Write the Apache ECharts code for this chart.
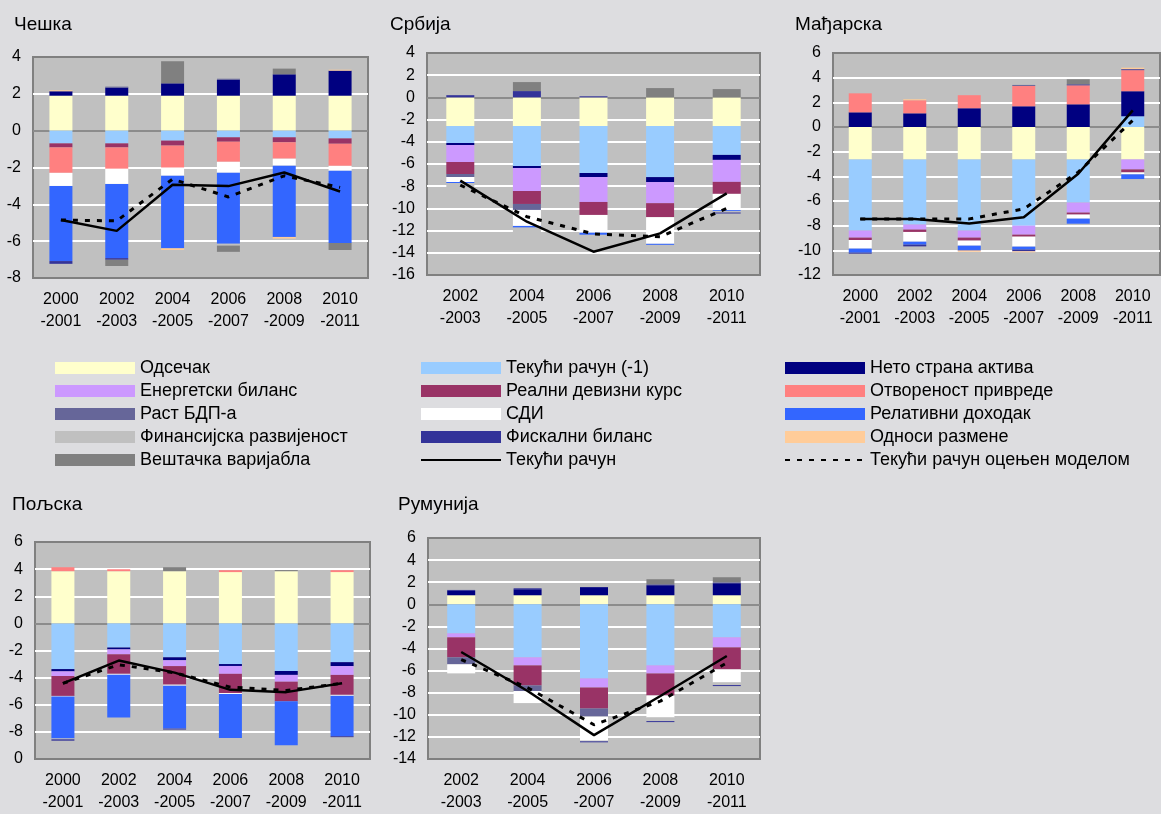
<!DOCTYPE html>
<html>
<head>
<meta charset="utf-8">
<script src="https://cdn.jsdelivr.net/npm/echarts@6/dist/echarts.min.js"></script>
<style>
  html, body { margin: 0; padding: 0; background: #dddde0; }
  #chart { width: 1161px; height: 814px; }
</style>
</head>
<body>
<div id="chart"></div>
<script>
// factor names, in stacking order (same as the legend, row by row)
const factorNames = [
  "Одсечак", "Текући рачун (-1)", "Нето страна актива",
  "Енергетски биланс", "Реални девизни курс", "Отвореност привреде",
  "Раст БДП-а", "СДИ", "Релативни доходак",
  "Финансијска развијеност", "Фискални биланс", "Односи размене",
  "Вештачка варијабла"
];
const factorColors = [
  "#ffffcc", "#99ccff", "#000080",
  "#cc99ff", "#993366", "#ff8080",
  "#666699", "#ffffff", "#3366ff",
  "#c0c0c0", "#333399", "#ffcc99",
  "#808080"
];
const actualName = "Текући рачун";
const modelName = "Текући рачун оцењен моделом";

const sixPeriods = ["2000\n-2001", "2002\n-2003", "2004\n-2005", "2006\n-2007", "2008\n-2009", "2010\n-2011"];
const fivePeriods = ["2002\n-2003", "2004\n-2005", "2006\n-2007", "2008\n-2009", "2010\n-2011"];

// Чешка: one row per factor
const czechValues = [
  [1.9, 1.9, 1.9, 1.9, 1.9, 1.9],
  [-0.69, -0.69, -0.54, -0.36, -0.36, -0.42],
  [0.24, 0.44, 0.67, 0.87, 1.16, 1.36],
  [0, 0, 0, 0, 0, 0],
  [-0.22, -0.22, -0.27, -0.24, -0.27, -0.29],
  [-1.38, -1.16, -1.2, -1.09, -0.89, -1.2],
  [0, 0.05, 0, 0.05, 0, 0],
  [-0.71, -0.82, -0.44, -0.6, -0.38, -0.27],
  [-4.08, -4.03, -3.94, -3.85, -3.87, -3.92],
  [0, 0, 0, -0.1, 0, 0],
  [-0.15, -0.09, 0, 0, 0, 0],
  [0.05, 0, -0.09, 0, -0.09, 0.05],
  [0, -0.34, 1.2, -0.34, 0.31, -0.38]
];
const czechActual = [-4.85, -5.44, -2.94, -3.01, -2.27, -3.3];
const czechModel = [-4.85, -4.9, -2.63, -3.6, -2.45, -3.08];

// Србија
const serbiaValues = [
  [-2.58, -2.58, -2.58, -2.58, -2.58],
  [-1.53, -3.6, -4.23, -4.6, -2.6],
  [-0.18, -0.18, -0.36, -0.45, -0.45],
  [-1.53, -2.07, -2.25, -1.9, -1.98],
  [-1.08, -1.17, -1.17, -1.26, -1.08],
  [0, 0, 0, 0, 0],
  [-0.27, -0.54, 0, 0, 0],
  [-0.45, -1.44, -1.6, -2.4, -1.47],
  [-0.09, -0.15, -0.18, -0.09, -0.09],
  [-0.4, -0.45, 0, 0, -0.12],
  [0.2, 0.57, 0.1, 0, -0.09],
  [0, 0, 0, 0, 0],
  [0, 0.81, 0, 0.84, 0.75]
];
const serbiaActual = [-7.5, -11.2, -13.9, -12.25, -8.65];
const serbiaModel = [-7.9, -10.75, -12.3, -12.55, -10.0];

// Мађарска
const hungaryValues = [
  [-2.63, -2.63, -2.63, -2.63, -2.63, -2.63],
  [-5.77, -5.28, -5.77, -5.37, -3.5, 0.87],
  [1.19, 1.11, 1.52, 1.68, 1.84, 2.03],
  [-0.57, -0.41, -0.57, -0.73, -0.81, -0.81],
  [-0.19, -0.19, -0.24, -0.16, -0.16, -0.24],
  [1.54, 1.06, 1.06, 1.65, 1.54, 1.71],
  [0, 0, 0, 0.08, 0, 0],
  [-0.7, -0.79, -0.41, -0.81, -0.33, -0.16],
  [-0.33, -0.24, -0.35, -0.24, -0.41, -0.38],
  [0, 0, 0, 0, 0, 0],
  [-0.08, -0.14, -0.05, -0.14, 0.08, 0.08],
  [0, 0.08, -0.1, -0.08, 0, 0.12],
  [0, 0, 0, 0, 0.41, 0]
];
const hungaryActual = [-7.45, -7.45, -7.83, -7.32, -3.79, 1.35];
const hungaryModel = [-7.45, -7.45, -7.45, -6.64, -3.66, 0.54];

// Пољска
const polandValues = [
  [3.85, 3.85, 3.85, 3.78, 3.85, 3.78],
  [-3.37, -1.78, -2.5, -3.0, -3.51, -2.86],
  [-0.17, -0.14, -0.22, -0.14, -0.29, -0.29],
  [-0.34, -0.36, -0.43, -0.58, -0.5, -0.65],
  [-1.47, -1.44, -1.37, -1.42, -1.44, -1.47],
  [0.29, 0.14, 0, 0.14, 0, 0.14],
  [0, 0, 0, 0, 0, 0],
  [-0.05, -0.07, -0.07, -0.07, 0, -0.07],
  [-3.08, -3.15, -3.17, -3.25, -3.25, -2.98],
  [-0.07, 0, 0, 0, 0, 0],
  [-0.1, 0, -0.07, 0, 0, -0.07],
  [0, 0, 0, 0, 0, 0],
  [0, 0, 0.29, 0, 0.08, 0]
];
const polandActual = [-4.42, -2.74, -3.63, -4.9, -5.07, -4.42];
const polandModel = [-4.42, -3.05, -3.65, -4.7, -4.95, -4.42];
const polandTickLabels = ["0", "-8", "-6", "-4", "-2", "0", "2", "4", "6"];

// Румунија
const romaniaValues = [
  [0.82, 0.82, 0.82, 0.82, 0.82],
  [-2.63, -4.8, -6.71, -5.53, -2.99],
  [0.39, 0.54, 0.73, 0.91, 1.09],
  [-0.36, -0.73, -0.82, -0.73, -0.91],
  [-1.81, -1.81, -1.9, -1.99, -1.99],
  [0, 0, 0, 0, 0],
  [-0.63, -0.51, -0.73, 0.09, 0.09],
  [-0.82, -1.09, -2.18, -1.99, -1.18],
  [0, 0, 0, 0, 0],
  [0, 0, -0.06, -0.33, -0.24],
  [0.09, 0.09, -0.09, -0.09, -0.09],
  [0, 0, 0, 0, 0],
  [0, 0, 0, 0.45, 0.45]
];
const romaniaActual = [-4.32, -7.85, -11.84, -8.3, -4.68];
const romaniaModel = [-5.0, -7.55, -10.9, -8.76, -5.3];

const fontFamily = "'Liberation Sans', Arial, sans-serif";

const panels = [
  { title: "Чешка", cats: sixPeriods, values: czechValues, actual: czechActual, model: czechModel,
    min: -8, max: 4, grid: { left: 33, top: 57, width: 335, height: 221 }, titlePos: [14, 15], barWidth: 23 },
  { title: "Србија", cats: fivePeriods, values: serbiaValues, actual: serbiaActual, model: serbiaModel,
    min: -16, max: 4, grid: { left: 427, top: 53, width: 333, height: 222 }, titlePos: [390, 15], barWidth: 28 },
  { title: "Мађарска", cats: sixPeriods, values: hungaryValues, actual: hungaryActual, model: hungaryModel,
    min: -12, max: 6, grid: { left: 833, top: 53, width: 327, height: 222 }, titlePos: [795, 15], barWidth: 23 },
  { title: "Пољска", cats: sixPeriods, values: polandValues, actual: polandActual, model: polandModel,
    min: -10, max: 6, grid: { left: 35, top: 542, width: 335, height: 222 }, titlePos: [12, 495], barWidth: 23,
    labels: polandTickLabels },
  { title: "Румунија", cats: fivePeriods, values: romaniaValues, actual: romaniaActual, model: romaniaModel,
    min: -14, max: 6, grid: { left: 428, top: 538, width: 332, height: 222 }, titlePos: [398, 495], barWidth: 28 }
];

// split line colours: border grey at the ends, grey zero line, white elsewhere
function splitColors(min, max) {
  const out = [];
  for (let v = min; v <= max; v += 2) {
    if (v === min || v === max) out.push("#808080");
    else if (v === 0) out.push("#8c8c8c");
    else out.push("#ffffff");
  }
  return out;
}

const grids = [], xAxes = [], yAxes = [], series = [], titles = [];
panels.forEach((p, i) => {
  grids.push(Object.assign({ show: true, backgroundColor: "#c0c0c0", borderColor: "#808080", borderWidth: 2 }, p.grid));
  titles.push({
    text: p.title, left: p.titlePos[0], top: p.titlePos[1], padding: 0,
    textStyle: { fontFamily, fontSize: 19, fontWeight: "normal", color: "#000" }
  });
  xAxes.push({
    type: "category", gridIndex: i, data: p.cats,
    axisLine: { show: false }, axisTick: { show: false },
    axisLabel: { fontFamily, fontSize: 16, color: "#000", lineHeight: 22, margin: 11, interval: 0 }
  });
  yAxes.push({
    type: "value", gridIndex: i, min: p.min, max: p.max, interval: 2,
    axisLine: { show: false }, axisTick: { show: false },
    axisLabel: {
      fontFamily, fontSize: 16, color: "#000", margin: 12,
      formatter: p.labels ? (v, idx) => p.labels[idx] : undefined
    },
    splitLine: { show: true, lineStyle: { color: splitColors(p.min, p.max), width: 2 } }
  });
  factorNames.forEach((name, f) => {
    series.push({
      type: "bar", name, xAxisIndex: i, yAxisIndex: i, stack: "s" + i,
      barWidth: p.barWidth, data: p.values[f],
      itemStyle: { color: factorColors[f] }
    });
  });
  series.push({
    type: "line", name: actualName, xAxisIndex: i, yAxisIndex: i, data: p.actual,
    symbol: "none", z: 5, lineStyle: { color: "#000", width: 2.5 }, itemStyle: { color: "#000" }
  });
  series.push({
    type: "line", name: modelName, xAxisIndex: i, yAxisIndex: i, data: p.model,
    symbol: "none", z: 5, lineStyle: { color: "#000", width: 3, type: [5, 7] }, itemStyle: { color: "#000" }
  });
});

// line entries: hide the legend marker, keep the line
const hiddenMarker = { color: "transparent", borderColor: "transparent", borderWidth: 0, opacity: 0 };
const legendCols = [
  [0, 3, 6, 9, 12].map(f => ({ name: factorNames[f], icon: "rect" })),
  [1, 4, 7, 10].map(f => ({ name: factorNames[f], icon: "rect" }))
    .concat([{ name: actualName, itemStyle: hiddenMarker }]),
  [2, 5, 8, 11].map(f => ({ name: factorNames[f], icon: "rect" }))
    .concat([{ name: modelName, itemStyle: hiddenMarker }])
];
const legendLeft = [55, 420, 784];

const chart = echarts.init(document.getElementById("chart"), null, { renderer: "canvas" });
chart.setOption({
  backgroundColor: "#dddde0",
  animation: false,
  title: titles,
  grid: grids,
  xAxis: xAxes,
  yAxis: yAxes,
  legend: legendCols.map((data, c) => ({
    orient: "vertical", left: legendLeft[c], top: 359,
    itemWidth: 80, itemHeight: 12, itemGap: 5, padding: 0,
    selectedMode: false,
    textStyle: { fontFamily, fontSize: 18, color: "#000", lineHeight: 18 },
    data
  })),
  series
});
</script>
</body>
</html>
